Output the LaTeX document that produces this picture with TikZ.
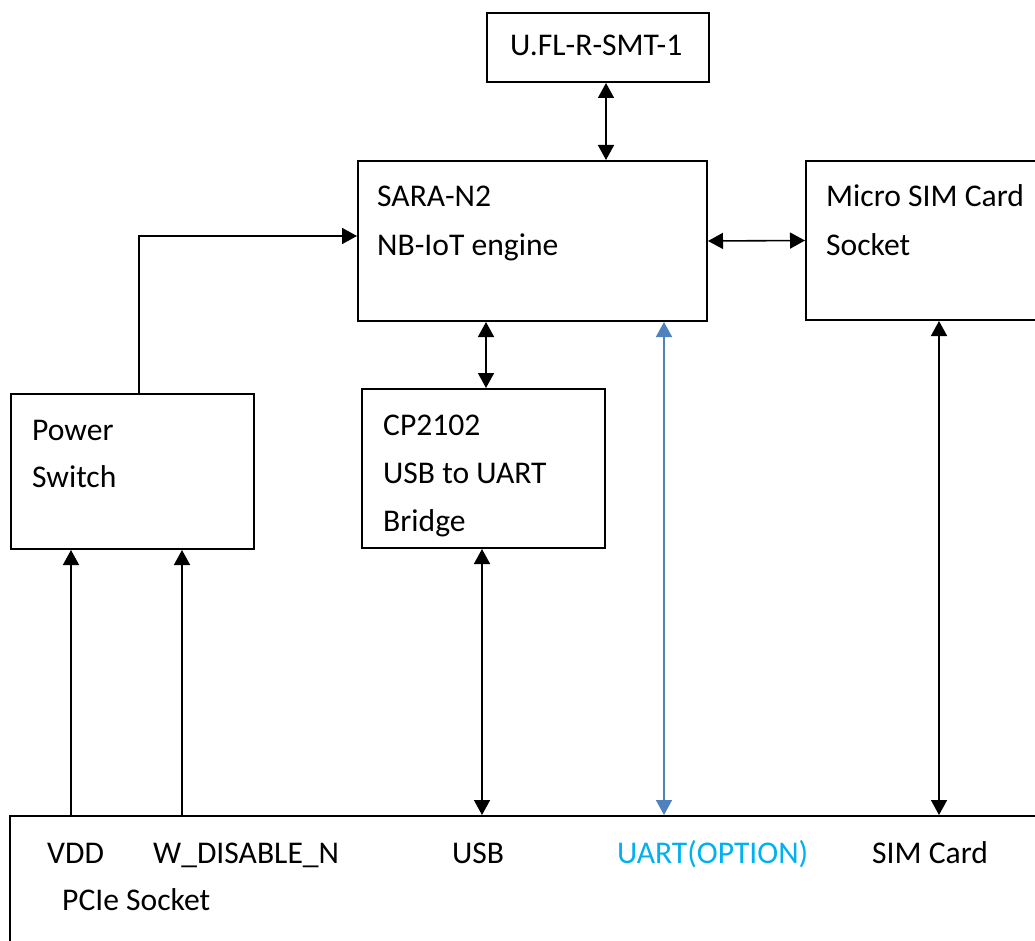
\documentclass[tikz,border=0pt]{standalone}
\usepackage{fontspec}
\setmainfont{Carlito}
\usetikzlibrary{arrows.meta}
\definecolor{linkblue}{HTML}{4F81BD}
\definecolor{txtblue}{HTML}{00B0F0}
\begin{document}
\begin{tikzpicture}[x=1pt,y=-1pt,
  box/.style={draw,line width=2pt,anchor=north west,inner sep=0pt},
  lbl/.style={anchor=base west,inner sep=0pt,font=\fontsize{31.6}{37}\selectfont},
  tip/.style={-{Triangle[length=15pt,width=16pt]}},
  dbl/.style={{Triangle[length=15pt,width=16pt]}-{Triangle[length=15pt,width=16pt]}},
  conn/.style={line width=1.6pt}]
\useasboundingbox (0,0) rectangle (1035,941);
\clip (0,0) rectangle (1035,941);
% boxes
\node[box,minimum width=222pt,minimum height=69pt] (ufl) at (486,12) {};
\node[box,minimum width=349pt,minimum height=160pt] (sara) at (357,160) {};
\node[box,minimum width=240pt,minimum height=159pt] (sim) at (805,160) {};
\node[box,minimum width=243pt,minimum height=155pt] (pw) at (10,393) {};
\node[box,minimum width=243pt,minimum height=159pt] (cp) at (361,388) {};
\node[box,minimum width=1040pt,minimum height=140pt] (pcie) at (9,815) {};
% texts
\node[lbl] (t1) at (510,56) {U.FL-R-SMT-1};
\node[lbl] (t2) at (377,207) {SARA-N2};
\node[lbl] (t3) at (377,255) {NB-IoT engine};
\node[lbl] (t4) at (826,207) {Micro SIM Card};
\node[lbl] (t5) at (826,255) {Socket};
\node[lbl] (t6) at (32,440) {Power};
\node[lbl] (t7) at (32,487) {Switch};
\node[lbl] (t8) at (383,435) {CP2102};
\node[lbl] (t9) at (383,483) {USB to UART};
\node[lbl] (t10) at (383,531) {Bridge};
\node[lbl] (p1) at (47,863) {VDD};
\node[lbl] (p2) at (153,863) {W\_DISABLE\_N};
\node[lbl] (p3) at (452,863) {USB};
\node[lbl,text=txtblue] (p4) at (617,863) {UART(OPTION)};
\node[lbl] (p5) at (872,863) {SIM Card};
\node[lbl] (p6) at (62,910) {PCIe Socket};
% reference x positions
\coordinate (xa) at (606,0);
\coordinate (xb) at (486,0);
\coordinate (xc) at (664,0);
\coordinate (xd) at (482,0);
\coordinate (xe) at (939,0);
\coordinate (xf) at (71,0);
\coordinate (xg) at (182,0);
\coordinate (xh) at (139,0);
\coordinate (yp) at (0,236);
% connectors
\draw[conn,dbl] (ufl.south -| xa) -- (sara.north -| xa);
\draw[conn,dbl] (sara.east) -- (sim.west);
\draw[conn,dbl] (sara.south -| xb) -- (cp.north -| xb);
\draw[conn,dbl,draw=linkblue,fill=linkblue] (sara.south -| xc) -- (pcie.north -| xc);
\draw[conn,dbl] (cp.south -| xd) -- (pcie.north -| xd);
\draw[conn,dbl] (sim.south -| xe) -- (pcie.north -| xe);
\draw[conn,tip] (pcie.north -| xf) -- (pw.south -| xf);
\draw[conn,tip] (pcie.north -| xg) -- (pw.south -| xg);
\draw[conn,tip] (pw.north -| xh) |- (sara.west |- yp);
\end{tikzpicture}
\end{document}
